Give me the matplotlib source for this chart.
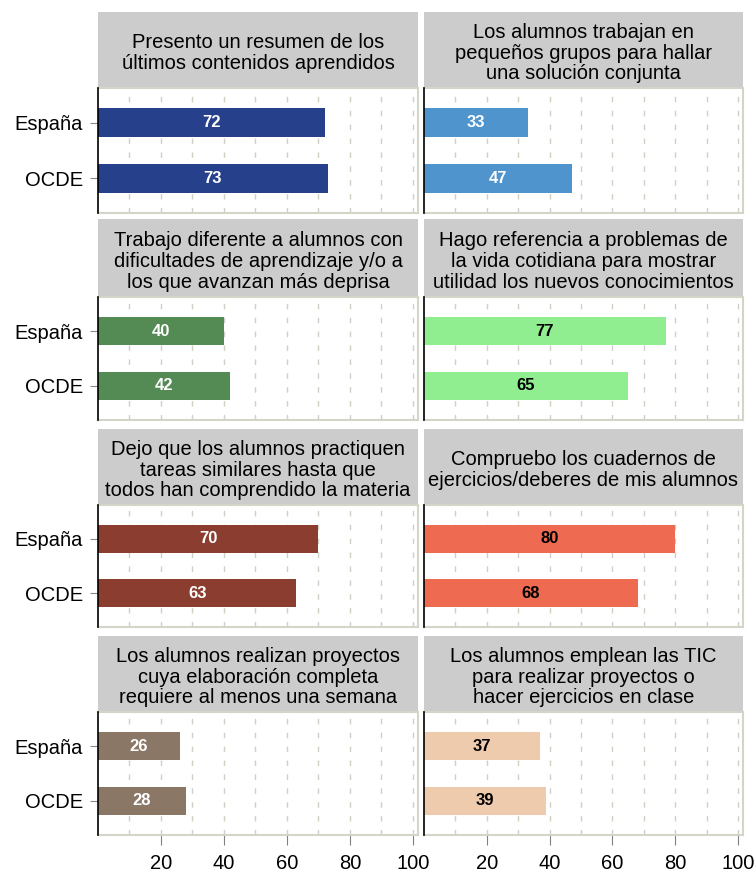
import matplotlib.pyplot as plt
import numpy as np

plt.rcParams['font.family'] = ['Liberation Sans', 'DejaVu Sans']

# Data
titles = [
    'Presento un resumen de los\núltimos contenidos aprendidos',
    'Los alumnos trabajan en\npequeños grupos para hallar\nuna solución conjunta',
    'Trabajo diferente a alumnos con\ndificultades de aprendizaje y/o a\nlos que avanzan más deprisa',
    'Hago referencia a problemas de\nla vida cotidiana para mostrar\nutilidad los nuevos conocimientos',
    'Dejo que los alumnos practiquen\ntareas similares hasta que\ntodos han comprendido la materia',
    'Compruebo los cuadernos de\nejercicios/deberes de mis alumnos',
    'Los alumnos realizan proyectos\ncuya elaboración completa\nrequiere al menos una semana',
    'Los alumnos emplean las TIC\npara realizar proyectos o\nhacer ejercicios en clase',
]
groups = ['España', 'OCDE']
espana = [72, 33, 40, 77, 70, 80, 26, 37]
ocde = [73, 47, 42, 65, 63, 68, 28, 39]
bar_colors = ['#27408B', '#4F94CD', '#548B54', '#90EE90',
              '#8B3E2F', '#EE6A50', '#8B7765', '#EECBAD']
label_colors = ['white', 'white', 'white', 'black',
                'white', 'black', 'white', 'black']
xticks = [20, 40, 60, 80, 100]

W, H = 756, 873
fig = plt.figure(figsize=(W / 100, H / 100), dpi=100)

cols = [(98, 418), (424, 743)]
rows = [(12, 88, 213), (219, 297, 420), (429, 505, 627), (636, 712, 835)]

strip_col = '#cccccc'
frame_col = '#d4d4c8'
grid_col = '#d0d0c4'


def rect(x0, x1, ytop, ybot):
    return [x0 / W, 1 - ybot / H, (x1 - x0) / W, (ybot - ytop) / H]


for i in range(8):
    r, c = divmod(i, 2)
    x0, x1 = cols[c]
    st, pt, pb = rows[r]

    # title strip
    sax = fig.add_axes(rect(x0, x1, st, pt))
    sax.set_facecolor(strip_col)
    sax.set_xticks([])
    sax.set_yticks([])
    for s in sax.spines.values():
        s.set_visible(False)
    sax.text(0.5, 0.46, titles[i], ha='center', va='center', fontsize=14.5,
             linespacing=1.13, transform=sax.transAxes)

    # plot area
    ax = fig.add_axes(rect(x0, x1, pt, pb))
    vals = [espana[i], ocde[i]]
    ypos = np.arange(len(groups))
    ax.barh(ypos, vals, height=0.52, color=bar_colors[i], zorder=3)
    for y, v in zip(ypos, vals):
        ax.text(v / 2, y, str(v), ha='center', va='center', fontsize=12,
                fontweight='bold', color=label_colors[i], zorder=4)

    ax.set_xlim(0, 101.6)
    ax.set_ylim(1.62, -0.62)
    ax.set_xticks(xticks)
    ax.set_xticks(np.arange(10, 100, 20), minor=True)
    ax.grid(True, axis='x', which='both', color=grid_col, linestyle=(0, (4, 6)),
            linewidth=1, zorder=1)
    ax.tick_params(axis='x', which='minor', length=0)

    if c == 0:
        ax.set_yticks(ypos)
        ax.set_yticklabels(groups, fontsize=14.5)
        ax.tick_params(axis='y', length=6, color='#888888', pad=5)
    else:
        ax.set_yticks([])

    if r == 3:
        ax.set_xticklabels([str(t) for t in xticks], fontsize=14.5)
        ax.tick_params(axis='x', which='major', length=7, color='#808080', pad=7)
    else:
        ax.tick_params(axis='x', which='major', length=0, labelbottom=False)

    ax.spines['left'].set_color('black')
    ax.spines['left'].set_linewidth(1.2)
    for s in ['right', 'bottom', 'top']:
        ax.spines[s].set_color(frame_col)
        ax.spines[s].set_linewidth(1.5)
    ax.spines['left'].set_zorder(5)

fig.savefig('out.png', dpi=100, facecolor='white')
